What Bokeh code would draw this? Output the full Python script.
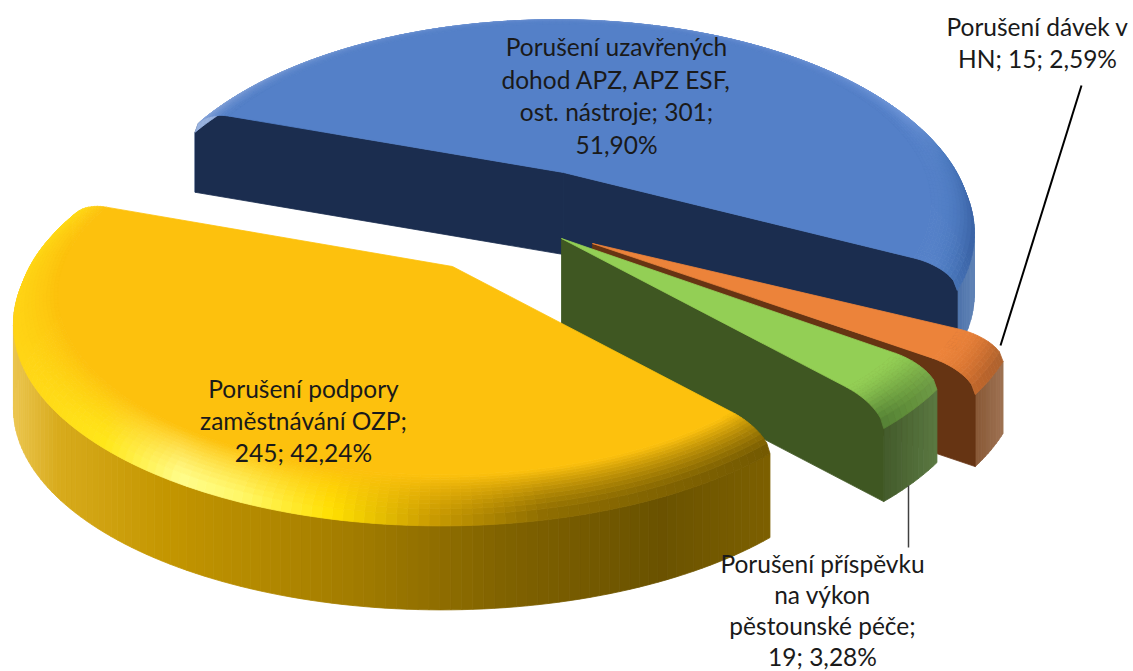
import math
from bokeh.core.properties import value
from bokeh.embed import file_html
from bokeh.models import Range1d
from bokeh.plotting import figure
from bokeh.resources import INLINE

# ---- data ----
categories = ["Porušení uzavřených dohod APZ, APZ ESF, ost. nástroje",
              "Porušení dávek v HN",
              "Porušení příspěvku na výkon pěstounské péče",
              "Porušení podpory zaměstnávání OZP"]
values = [301, 15, 19, 245]
percent_labels = ["51,90%", "2,59%", "3,28%", "42,24%"]
label_lines = [
    ["Porušení uzavřených", "dohod APZ, APZ ESF,", "ost. nástroje; 301;", "51,90%"],
    ["Porušení dávek v", "HN; 15; 2,59%"],
    ["Porušení příspěvku", "na výkon", "pěstounské péče;", "19; 3,28%"],
    ["Porušení podpory", "zaměstnávání OZP;", "245; 42,24%"],
]

# ---- styling / projection ----
W, H = 1133, 671
START = 160.0      # degrees, edge of the first slice, going clockwise
PERSP = 0.193
DEPTH = 194.0
BEVEL_DROP = 22.0
FLAT_R = 0.90
RINGS = 12


def hex2(c):
    return tuple(int(c[i:i + 2], 16) for i in (1, 3, 5))


def mix(a, b, t):
    return tuple(a[i] + (b[i] - a[i]) * t for i in range(3))


def tohex(c):
    return "#%02x%02x%02x" % tuple(int(round(max(0, min(255, v)))) for v in c)


def ramp(stops, t):
    t = max(0.0, min(1.0, t))
    for (t0, c0), (t1, c1) in zip(stops, stops[1:]):
        if t <= t1:
            return mix(hex2(c0), hex2(c1), (t - t0) / (t1 - t0) if t1 > t0 else 0)
    return hex2(stops[-1][1])


slices = [
    dict(apex=(563, 172), c=(556, 172), R=410, Hw=60, top="#5480c8", cut="#1b2d4f",
         x0=190, x1=985,
         rim=[(0, "#9db5e0"), (0.6, "#90aade"), (0.9, "#7fa2e0"), (0.95, "#4a79bd"), (1, "#33599b")],
         wall=[(0, "#2a4f8c"), (0.93, "#2f5597"), (1, "#6c8fbe")],
         cuts=(True, True), ringfade=1.4),
    dict(apex=(592, 243), c=(592, 243), R=420, Hw=72, top="#ec833a", cut="#663413",
         x0=960, x1=1005,
         rim=[(0, "#c96a2a"), (0.6, "#b5612a"), (1, "#a8612f")],
         wall=[(0, "#7d4a26"), (1, "#a07556")],
         cuts=(False, True), ringfade=1.6),
    dict(apex=(561, 238), c=(561, 238), R=412, Hw=73, top="#93cf55", cut="#3f5722",
         x0=880, x1=942,
         rim=[(0, "#4f7a32"), (0.5, "#5f8c3a"), (1, "#6f9a48")],
         wall=[(0, "#42592a"), (1, "#5d7c44")],
         cuts=(False, True), ringfade=1.6),
    dict(apex=(452, 266), c=(441, 263), R=420, Hw=84, top="#fdc10d", cut="#7a5e00",
         x0=12, x1=772,
         rim=[(0, "#ffd415"), (0.12, "#ffe81a"), (0.22, "#ffff90"), (0.3, "#fff96a"),
              (0.42, "#ffe000"), (0.55, "#c89a00"), (0.7, "#8a6a00"), (1, "#6e5500")],
         wall=[(0, "#ecc650"), (0.06, "#d8ab1c"), (0.2, "#c49600"), (0.45, "#a27c00"),
               (0.65, "#806200"), (0.85, "#6a5200"), (1, "#7d6000")],
         cuts=(False, False), ringfade=1.0),
]


def point(s, r, th, z):
    X, Y = r * math.cos(th), r * math.sin(th)
    w = 1 + PERSP * Y
    x = s["c"][0] + s["R"] * X / w
    y = s["c"][1] - DEPTH * Y / w - z
    k = max(0.0, 1 - r / FLAT_R)
    return x + (s["apex"][0] - s["c"][0]) * k, y + (s["apex"][1] - s["c"][1]) * k


def bevel_z(r):
    if r <= FLAT_R:
        return 0.0
    u = min(1.0, (r - FLAT_R) / (1 - FLAT_R))
    return -BEVEL_DROP * (1 - math.sqrt(max(0.0, 1 - u * u)))


xs, ys, cols = [], [], []


def add(poly, col):
    xs.append([q[0] for q in poly])
    ys.append([q[1] for q in poly])
    cols.append(col)


total = sum(values)
angle = START
for s, v in zip(slices, values):
    sweep = v / total * 360.0
    a0, a1 = math.radians(angle), math.radians(angle - sweep)
    angle -= sweep
    n = max(10, int(sweep / 1.2))
    ths = [a0 + (a1 - a0) * i / n for i in range(n + 1)]
    span = s["x1"] - s["x0"]
    bottom = -(BEVEL_DROP + s["Hw"])
    # outer wall
    for t0, t1 in zip(ths, ths[1:]):
        p0, p1 = point(s, 1, t0, -BEVEL_DROP), point(s, 1, t1, -BEVEL_DROP)
        p2, p3 = point(s, 1, t1, bottom), point(s, 1, t0, bottom)
        col = tohex(ramp(s["wall"], ((p0[0] + p1[0]) / 2 - s["x0"]) / span))
        add([p0, p1, p2, p3], col)
    # cut faces
    rs = [i / 20 * FLAT_R for i in range(21)] + [FLAT_R + (1 - FLAT_R) * i / 10 for i in range(1, 11)]
    for flag, th in zip(s["cuts"], (a0, a1)):
        if flag:
            poly = [point(s, r, th, bevel_z(r)) for r in rs]
            poly += [point(s, 1, th, bottom), point(s, 0, th, bottom)]
            add(poly, s["cut"])
    # bevel rings, outer to inner
    for j in range(RINGS):
        u1 = 1 - j / RINGS
        u0 = 1 - (j + 1) / RINGS
        r1 = FLAT_R + (1 - FLAT_R) * u1
        r0 = FLAT_R + (1 - FLAT_R) * u0
        for t0, t1 in zip(ths, ths[1:]):
            p0, p1 = point(s, r1, t0, bevel_z(r1)), point(s, r1, t1, bevel_z(r1))
            p2, p3 = point(s, r0, t1, bevel_z(r0)), point(s, r0, t0, bevel_z(r0))
            t = ((p0[0] + p1[0]) / 2 - s["x0"]) / span
            col = mix(hex2(s["top"]), ramp(s["rim"], t), ((u0 + u1) / 2) ** s["ringfade"])
            add([p0, p1, p2, p3], tohex(col))
    # flat face
    add([point(s, 0, a0, 0)] + [point(s, FLAT_R, th, 0) for th in ths], s["top"])

p = figure(width=W, height=H, output_backend="svg", toolbar_location=None,
           x_range=Range1d(0, W), y_range=Range1d(H, 0),
           min_border=0, outline_line_color=None, background_fill_color="#ffffff")
p.axis.visible = False
p.grid.visible = False
p.patches(xs, ys, fill_color=cols, line_color=cols, line_width=0.8)

# leader lines
p.line([1081, 1000], [85, 345], line_color="#000000", line_width=2)
p.line([908, 908], [485, 547], line_color="#404040", line_width=1.5)

# labels
anchors = [(616, 46, 32.5), (1037, 26, 32), (822, 563, 31), (303, 388, 32)]
tx, ty, tt = [], [], []
for (ax, ay, dy), lines in zip(anchors, label_lines):
    for i, line in enumerate(lines):
        tx.append(ax)
        ty.append(ay + i * dy)
        tt.append(line)
p.text(tx, ty, text=tt, text_font=value("Lato"), text_font_size="24.5px",
       text_align="center", text_baseline="middle", text_color="#1a1a1a")

open("out.html", "w").write(file_html(p, INLINE))
